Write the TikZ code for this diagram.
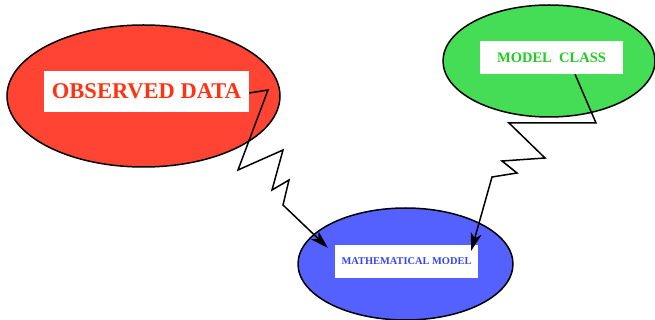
\documentclass[tikz,border=0pt]{standalone}
\usepackage{fontspec}
\setmainfont{Liberation Serif}
\usetikzlibrary{shapes.geometric,arrows.meta}
\definecolor{redfill}{RGB}{255,68,51}
\definecolor{redtext}{RGB}{255,51,17}
\definecolor{greenfill}{RGB}{68,221,85}
\definecolor{greentext}{RGB}{34,204,34}
\definecolor{bluefill}{RGB}{85,97,255}
\definecolor{bluetext}{RGB}{51,68,255}
\tikzset{
  blob/.style={ellipse, draw=black, line width=1.5pt, inner sep=0pt},
  tag/.style={rectangle, fill=white, inner sep=0pt, font=\bfseries},
  zig/.style={draw=black, line width=1.5pt, line join=miter, -{Stealth[length=18pt,width=11pt,inset=5pt]}},
}
\begin{document}
\begin{tikzpicture}[x=1pt,y=-1pt]
\useasboundingbox (0,0) rectangle (655,320);
\node[blob, fill=redfill, minimum width=273pt, minimum height=142pt] (obs) at (143.5,96) {};
\node[blob, fill=greenfill, minimum width=212pt, minimum height=112pt] (cls) at (549,61) {};
\node[blob, fill=bluefill, minimum width=215pt, minimum height=112pt] (mm) at (405.5,264) {};
\node[tag, minimum width=205pt, minimum height=41pt, text=redtext, font=\bfseries\fontsize{22.5}{24}\selectfont] (obsl) at (146.5,91.5) {OBSERVED DATA};
\node[tag, minimum width=143pt, minimum height=33pt, text=greentext, font=\bfseries\fontsize{14.5}{16}\selectfont] (clsl) at (551.5,57.5) {MODEL\ \ CLASS};
\node[tag, minimum width=143pt, minimum height=33pt, text=bluetext, font=\bfseries\fontsize{10.4}{12}\selectfont] (mml) at (406.5,261.5) {MATHEMATICAL MODEL};
\draw[zig] ([yshift=-1.5pt]obsl.east) -- (268,90) -- (238,170) -- (283,150) -- (272,190) -- (289,180) -- (283,205) -- ([shift={(-7pt,-3pt)}]mml.north west);
\draw[zig] ([xshift=23.5pt]clsl.south) -- (596,123) -- (509,123) -- (545,158) -- (502,161) -- (517,173) -- (492,177) -- ([shift={(-7pt,-6pt)}]mml.north east);
\end{tikzpicture}
\end{document}
